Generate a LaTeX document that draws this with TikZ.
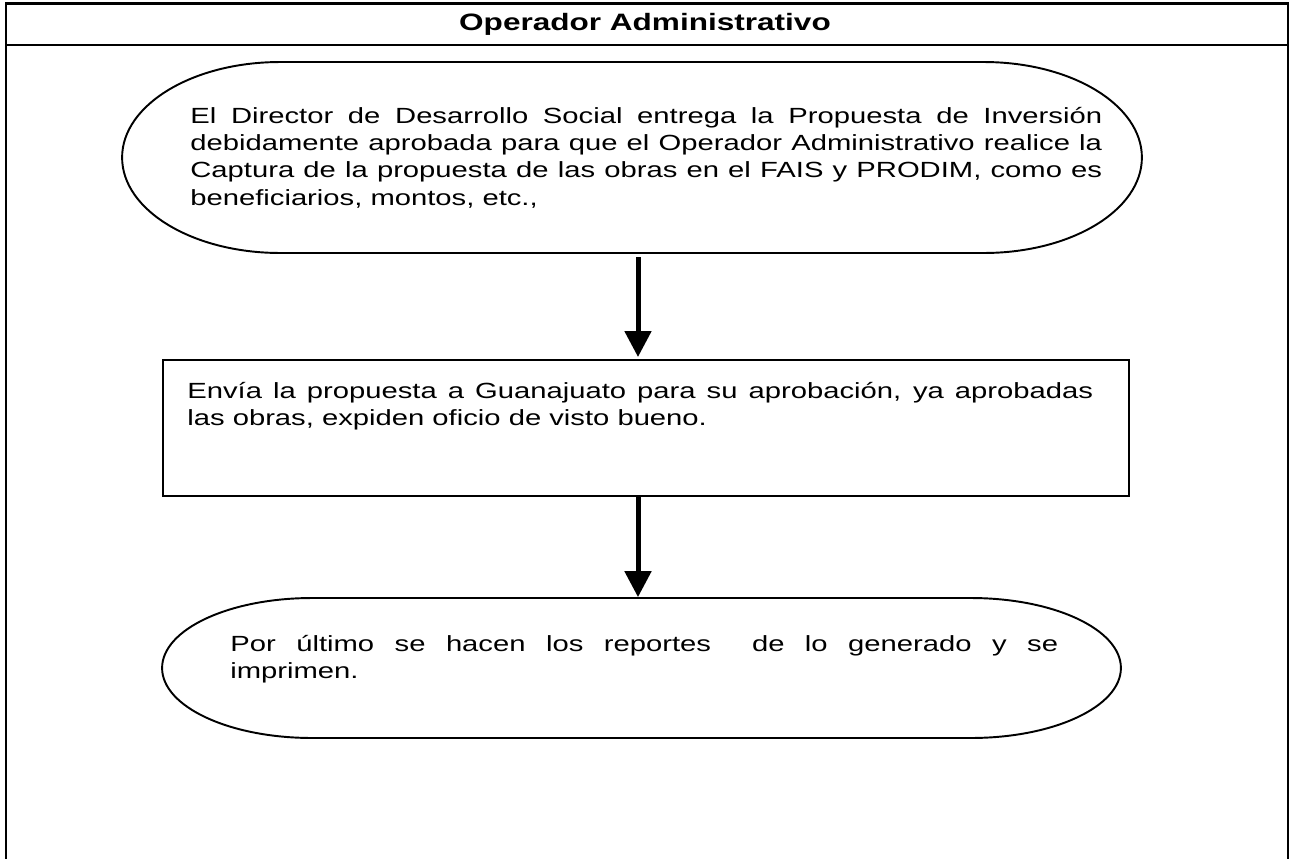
\documentclass[tikz,border=0pt]{standalone}
\usepackage{fontspec}
\setmainfont{Liberation Sans}[FakeStretch=1.33]
\usetikzlibrary{arrows.meta}

\begin{document}
\begin{tikzpicture}[x=0.02cm, y=0.02cm, >={Triangle[length=5.2mm, width=5.2mm]},
  marco/.style={line width=1.4pt},
  contorno/.style={line width=1.1pt},
  flecha/.style={->, line width=2.85pt},
  forma/.style={inner sep=0pt, outer sep=0pt},
  texto/.style={inner sep=0pt, anchor=base west, align=justify, font=\fontsize{12.5}{15.65}\selectfont},
  titulo/.style={inner sep=0pt, anchor=base, font=\bfseries\fontsize{13.5}{16}\selectfont}]
\useasboundingbox (0,0) rectangle (1296,-859);
% marco y encabezado
\draw[marco] (6,-859) -- (6,-3.5) -- (1288,-3.5) -- (1288,-859);
\draw[marco] (6,-45) -- (1288,-45);
\node[titulo] (titulo) at (645,-30) {Operador Administrativo};
% formas
\node[forma, minimum width=20.4cm, minimum height=3.82cm] (propuesta) at (632,-157.5) {};
\draw[contorno] ([xshift=3.16cm]propuesta.north west) -- ([xshift=-3.16cm]propuesta.north east)
  arc[start angle=90, end angle=-90, x radius=3.16cm, y radius=1.91cm]
  -- ([xshift=3.16cm]propuesta.south west)
  arc[start angle=270, end angle=90, x radius=3.16cm, y radius=1.91cm] -- cycle;
\node[forma, draw, contorno, minimum width=19.32cm, minimum height=2.72cm] (envio) at (646,-428) {};
\node[forma, minimum width=19.18cm, minimum height=2.8cm] (reportes) at (641.5,-668) {};
\draw[contorno] ([xshift=3cm]reportes.north west) -- ([xshift=-3cm]reportes.north east)
  arc[start angle=90, end angle=-90, x radius=3cm, y radius=1.4cm]
  -- ([xshift=3cm]reportes.south west)
  arc[start angle=270, end angle=90, x radius=3cm, y radius=1.4cm] -- cycle;
% textos
\node[texto, text width=18.24cm] (propuestatxt) at (190,-123) {El Director de Desarrollo Social entrega la Propuesta de Inversión\linebreak debidamente aprobada para que el Operador Administrativo realice la\linebreak Captura de la propuesta de las obras en el FAIS y PRODIM, como es\linebreak beneficiarios, montos, etc.,};
\node[texto, text width=18.12cm] (enviotxt) at (187,-398) {Envía la propuesta a Guanajuato para su aprobación, ya aprobadas\linebreak las obras, expiden oficio de visto bueno.};
\node[texto, text width=16.56cm] (reportestxt) at (230,-651) {Por último se hacen los reportes\ \ de lo generado y se\linebreak imprimen.};
% flechas
\coordinate (eje) at (638,0);
\draw[flecha, shorten <=2.3pt, shorten >=1.7pt] (propuesta.south -| eje) -- (envio.north -| eje);
\draw[flecha, shorten >=0.5pt] (envio.south -| eje) -- (reportes.north -| eje);
\end{tikzpicture}
\end{document}
